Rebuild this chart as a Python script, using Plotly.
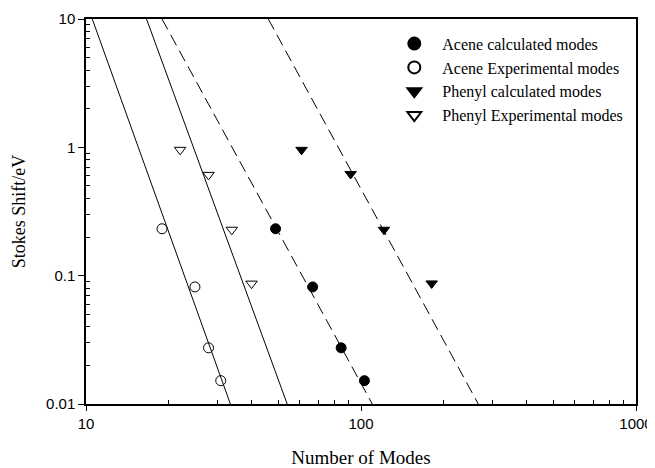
import plotly.graph_objects as go

# Data
acene_calc_x = [48.9, 66.7, 84.7, 102.9]
acene_calc_y = [0.232, 0.0817, 0.0274, 0.0152]
acene_exp_x = [18.9, 24.9, 27.9, 30.9]
acene_exp_y = [0.232, 0.0817, 0.0274, 0.0152]
phenyl_calc_x = [60.8, 91.7, 121.2, 180.7]
phenyl_calc_y = [0.956, 0.62, 0.228, 0.087]
phenyl_exp_x = [22.0, 27.9, 33.9, 40.0]
phenyl_exp_y = [0.956, 0.61, 0.228, 0.0867]

# Fit lines (endpoints at the plot edges)
fit_y = [10, 0.01]
fit_acene_exp_x = [10.54, 33.5]
fit_phenyl_exp_x = [16.6, 53.9]
fit_acene_calc_x = [18.9, 109.9]
fit_phenyl_calc_x = [46.0, 267.0]

serif = "Liberation Serif, Times New Roman, serif"
sans = "Liberation Sans, Arial, sans-serif"

fig = go.Figure()

for fx, dash in [(fit_acene_exp_x, "solid"), (fit_phenyl_exp_x, "solid"),
                 (fit_acene_calc_x, "12px,6px"), (fit_phenyl_calc_x, "12px,6px")]:
    fig.add_trace(go.Scatter(x=fx, y=fit_y, mode="lines", showlegend=False,
                             line=dict(color="black", width=1, dash=dash),
                             hoverinfo="skip"))

msize = 10
fig.add_trace(go.Scatter(x=acene_calc_x, y=acene_calc_y, mode="markers",
                         name="Acene calculated modes",
                         marker=dict(symbol="circle", size=msize, color="black",
                                     line=dict(color="black", width=1))))
fig.add_trace(go.Scatter(x=acene_exp_x, y=acene_exp_y, mode="markers",
                         name="Acene Experimental modes",
                         marker=dict(symbol="circle-open", size=msize, color="black",
                                     line=dict(color="black", width=1))))
fig.add_trace(go.Scatter(x=phenyl_calc_x, y=phenyl_calc_y, mode="markers",
                         name="Phenyl calculated modes",
                         marker=dict(symbol="triangle-down", size=msize, color="black",
                                     line=dict(color="black", width=1))))
fig.add_trace(go.Scatter(x=phenyl_exp_x, y=phenyl_exp_y, mode="markers",
                         name="Phenyl Experimental modes",
                         marker=dict(symbol="triangle-down-open", size=msize, color="black",
                                     line=dict(color="black", width=1))))

minor_x = [m * 10 ** d for d in range(1, 3) for m in range(2, 10)]
minor_y = [m * 10.0 ** d for d in range(-2, 1) for m in range(2, 10)]

fig.update_xaxes(type="log", range=[1, 3], showgrid=False, zeroline=False,
                 automargin=False,
                 showline=True, linecolor="black", linewidth=1.5, mirror=True,
                 ticks="outside", ticklen=5, tickcolor="black", tickwidth=1,
                 tickvals=[10, 100, 1000], ticktext=["10", "100", "1000"],
                 tickfont=dict(family=sans, size=15, color="black"),
                 minor=dict(ticks="inside", ticklen=4, tickcolor="black",
                            tickvals=minor_x, showgrid=False),
                 title=dict(text="Number of Modes", standoff=21,
                            font=dict(family=serif, size=19, color="black")))
fig.update_yaxes(type="log", range=[-2, 1], showgrid=False, zeroline=False,
                 automargin=False,
                 showline=True, linecolor="black", linewidth=1.5, mirror=True,
                 ticks="outside", ticklen=6, tickcolor="black", tickwidth=1,
                 tickvals=[0.01, 0.1, 1, 10], ticktext=["0.01", "0.1", "1", "10"],
                 tickfont=dict(family=sans, size=15, color="black"),
                 minor=dict(ticks="inside", ticklen=4, tickcolor="black",
                            tickvals=minor_y, showgrid=False),
                 title=dict(text="Stokes Shift/eV", standoff=16,
                            font=dict(family=serif, size=18, color="black")))

# The page body adds an 8px offset, so the figure is sized to fit the window
fig.update_layout(width=647, height=460,
                  margin=dict(l=78, r=19, t=11, b=64, autoexpand=False),
                  paper_bgcolor="white", plot_bgcolor="white",
                  legend=dict(x=0.546, y=0.98, xanchor="left", yanchor="top",
                              bgcolor="rgba(0,0,0,0)", itemwidth=46,
                              font=dict(family=serif, size=16, color="black"),
                              tracegroupgap=0, itemsizing="constant"))

fig.write_html("out.html")
